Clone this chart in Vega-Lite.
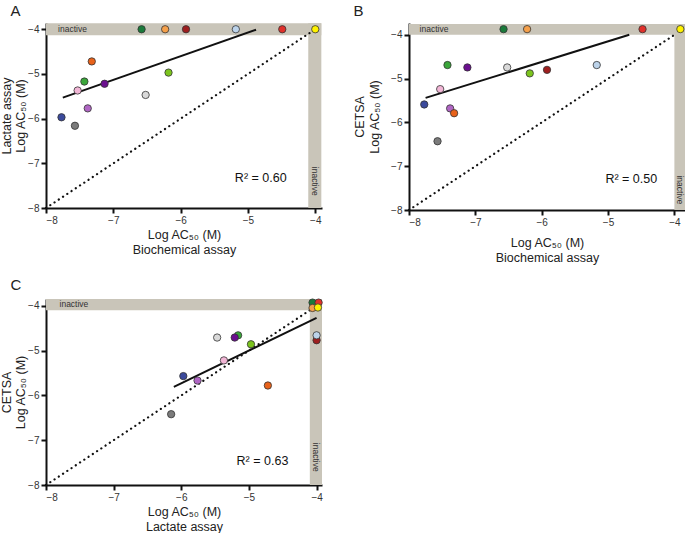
{
  "$schema": "https://vega.github.io/schema/vega-lite/v6.json",
  "padding": {"left": 0, "top": 4, "right": 0, "bottom": 0},
  "background": "white",
  "config": {
    "view": {"stroke": null},
    "font": "Liberation Sans",
    "axis": {"grid": false, "domainColor": "#111", "domainWidth": 2, "tickColor": "#111", "tickWidth": 2, "tickSize": 5, "labelFontSize": 10, "labelColor": "#333", "titleFontSize": 12.5, "titleFontWeight": "normal", "titleColor": "#222", "titleLineHeight": 15, "labelPadding": 2},
    "title": {"fontSize": 15, "fontWeight": "normal", "anchor": "start", "frame": "bounds", "color": "#222"}
  },
  "datasets": {
    "diag": [{"x": -8, "y": -8, "x2": -4, "y2": -4}],
    "pointsA": [
      {"id": 1, "x": -7.77, "y": -5.97}, {"id": 2, "x": -7.57, "y": -6.16}, {"id": 3, "x": -7.53, "y": -5.37},
      {"id": 4, "x": -7.38, "y": -5.77}, {"id": 5, "x": -7.32, "y": -4.72}, {"id": 6, "x": -7.43, "y": -5.17},
      {"id": 7, "x": -7.13, "y": -5.22}, {"id": 8, "x": -6.52, "y": -5.47}, {"id": 9, "x": -6.18, "y": -4.97},
      {"id": 10, "x": -6.58, "y": -4.0}, {"id": 11, "x": -6.23, "y": -4.0}, {"id": 12, "x": -5.92, "y": -4.0},
      {"id": 13, "x": -5.18, "y": -4.0}, {"id": 14, "x": -4.49, "y": -4.0}, {"id": 15, "x": -4.0, "y": -4.0}
    ],
    "pointsB": [
      {"id": 1, "x": -7.77, "y": -5.59}, {"id": 2, "x": -7.57, "y": -6.43}, {"id": 3, "x": -7.53, "y": -5.24},
      {"id": 4, "x": -7.38, "y": -5.68}, {"id": 5, "x": -7.32, "y": -5.79}, {"id": 6, "x": -7.42, "y": -4.69},
      {"id": 7, "x": -7.12, "y": -4.745}, {"id": 8, "x": -6.52, "y": -4.745}, {"id": 9, "x": -6.18, "y": -4.88},
      {"id": 10, "x": -6.575, "y": -3.87}, {"id": 11, "x": -6.22, "y": -3.87}, {"id": 12, "x": -5.92, "y": -4.8},
      {"id": 13, "x": -5.17, "y": -4.69}, {"id": 14, "x": -4.48, "y": -3.87}, {"id": 15, "x": -3.91, "y": -3.87}
    ],
    "pointsC": [
      {"id": 1, "x": -5.97, "y": -5.57}, {"id": 2, "x": -6.15, "y": -6.42}, {"id": 3, "x": -5.37, "y": -5.22},
      {"id": 4, "x": -5.76, "y": -5.67}, {"id": 5, "x": -4.72, "y": -5.78}, {"id": 6, "x": -5.16, "y": -4.66},
      {"id": 7, "x": -5.21, "y": -4.71}, {"id": 8, "x": -5.47, "y": -4.71}, {"id": 9, "x": -4.97, "y": -4.86},
      {"id": 10, "x": -4.06, "y": -3.93}, {"id": 11, "x": -4.06, "y": -4.05}, {"id": 12, "x": -4.0, "y": -4.77},
      {"id": 13, "x": -4.0, "y": -4.66}, {"id": 14, "x": -3.97, "y": -3.93}, {"id": 15, "x": -3.98, "y": -4.04}
    ],
    "bandsA": [{"x": -8, "x2": -3.91, "y": -4.134, "y2": -3.866}, {"x": -4.104, "x2": -3.91, "y": -8, "y2": -3.866}],
    "bandsB": [{"x": -8, "x2": -3.84, "y": -4.0, "y2": -3.75}, {"x": -4.0, "x2": -3.84, "y": -8, "y2": -3.75}],
    "bandsC": [{"x": -8, "x2": -3.92, "y": -4.1, "y2": -3.85}, {"x": -4.1, "x2": -3.92, "y": -8, "y2": -3.85}],
    "fitA": [{"x": -7.75, "y": -5.53, "x2": -4.88, "y2": -4.01}],
    "fitB": [{"x": -7.75, "y": -5.44, "x2": -4.68, "y2": -4.0}],
    "fitC": [{"x": -6.11, "y": -5.81, "x2": -4.0, "y2": -4.27}],
    "labelsA": [{"pos": "top", "label": "inactive", "x": -7.82, "y": -4.0}, {"pos": "right", "label": "inactive", "x": -4.0, "y": -7.4}, {"pos": "r2", "label": "R² = 0.60", "x": -4.81, "y": -7.33}],
    "labelsB": [{"pos": "top", "label": "inactive", "x": -7.84, "y": -3.87}, {"pos": "right", "label": "inactive", "x": -3.92, "y": -7.54}, {"pos": "r2", "label": "R² = 0.50", "x": -4.65, "y": -7.29}],
    "labelsC": [{"pos": "top", "label": "inactive", "x": -7.8, "y": -3.97}, {"pos": "right", "label": "inactive", "x": -4.01, "y": -7.38}, {"pos": "r2", "label": "R² = 0.63", "x": -4.8, "y": -7.47}]
  },
  "vconcat": [
    {
      "hconcat": [
        {
          "title": {"text": "A", "dx": 10, "offset": 4},
          "width": 276, "height": 185,
          "encoding": {
            "x": {"field": "x", "type": "quantitative", "scale": {"domain": [-8, -3.9], "nice": false, "zero": false}, "axis": {"values": [-8, -7, -6, -5, -4], "title": ["Log AC₅₀ (M)", "Biochemical assay"], "titlePadding": 3}},
            "y": {"field": "y", "type": "quantitative", "scale": {"domain": [-8, -3.86], "nice": false, "zero": false}, "axis": {"values": [-8, -7, -6, -5, -4], "title": ["Lactate assay", "Log AC₅₀ (M)"], "titlePadding": 0, "titleLineHeight": 14}}
          },
          "layer": [
            {"data": {"name": "bandsA"}, "mark": {"type": "rect", "color": "#c9c5b9"}, "encoding": {"x2": {"field": "x2"}, "y2": {"field": "y2"}}},
            {"data": {"name": "diag"}, "mark": {"type": "rule", "color": "#111", "strokeWidth": 2.2, "strokeDash": [0.1, 5], "strokeCap": "round"}, "encoding": {"x2": {"field": "x2"}, "y2": {"field": "y2"}}},
            {"data": {"name": "fitA"}, "mark": {"type": "rule", "color": "#111", "strokeWidth": 2}, "encoding": {"x2": {"field": "x2"}, "y2": {"field": "y2"}}},
            {"data": {"name": "pointsA"}, "mark": {"type": "circle", "size": 54, "opacity": 1, "stroke": "#333", "strokeWidth": 0.8}, "encoding": {"color": {"field": "id", "type": "nominal", "legend": null, "scale": {"domain": [1,2,3,4,5,6,7,8,9,10,11,12,13,14,15], "range": ["#3b4a9c", "#7b7b7b", "#f2b6d6", "#b066c4", "#e8621a", "#3aa63a", "#6b0f8f", "#d9d9d9", "#7cc41e", "#1b7a3a", "#f5a04a", "#9e1f1f", "#bcd3ea", "#e0302a", "#fff200"]}}}},
            {"data": {"name": "labelsA"}, "transform": [{"filter": "datum.pos == 'top'"}], "mark": {"type": "text", "align": "left", "baseline": "middle", "fontSize": 8.5, "color": "#333"}, "encoding": {"text": {"field": "label"}}},
            {"data": {"name": "labelsA"}, "transform": [{"filter": "datum.pos == 'right'"}], "mark": {"type": "text", "align": "center", "baseline": "middle", "angle": 90, "fontSize": 8.5, "color": "#333"}, "encoding": {"text": {"field": "label"}}},
            {"data": {"name": "labelsA"}, "transform": [{"filter": "datum.pos == 'r2'"}], "mark": {"type": "text", "align": "center", "baseline": "middle", "fontSize": 12.5, "color": "#111"}, "encoding": {"text": {"field": "label"}}}
          ]
        },
        {
          "title": {"text": "B", "dx": 0, "offset": 4},
          "width": 276, "height": 187,
          "encoding": {
            "x": {"field": "x", "type": "quantitative", "scale": {"domain": [-8, -3.84], "nice": false, "zero": false}, "axis": {"values": [-8, -7, -6, -5, -4], "title": ["Log AC₅₀ (M)", "Biochemical assay"], "titlePadding": 9}},
            "y": {"field": "y", "type": "quantitative", "scale": {"domain": [-8, -3.73], "nice": false, "zero": false}, "axis": {"values": [-8, -7, -6, -5, -4], "title": ["CETSA", "Log AC₅₀ (M)"], "titlePadding": 9}}
          },
          "layer": [
            {"data": {"name": "bandsB"}, "mark": {"type": "rect", "color": "#c9c5b9"}, "encoding": {"x2": {"field": "x2"}, "y2": {"field": "y2"}}},
            {"data": {"name": "diag"}, "mark": {"type": "rule", "color": "#111", "strokeWidth": 2.2, "strokeDash": [0.1, 5], "strokeCap": "round"}, "encoding": {"x2": {"field": "x2"}, "y2": {"field": "y2"}}},
            {"data": {"name": "fitB"}, "mark": {"type": "rule", "color": "#111", "strokeWidth": 2}, "encoding": {"x2": {"field": "x2"}, "y2": {"field": "y2"}}},
            {"data": {"name": "pointsB"}, "mark": {"type": "circle", "size": 54, "opacity": 1, "stroke": "#333", "strokeWidth": 0.8}, "encoding": {"color": {"field": "id", "type": "nominal", "legend": null, "scale": {"domain": [1,2,3,4,5,6,7,8,9,10,11,12,13,14,15], "range": ["#3b4a9c", "#7b7b7b", "#f2b6d6", "#b066c4", "#e8621a", "#3aa63a", "#6b0f8f", "#d9d9d9", "#7cc41e", "#1b7a3a", "#f5a04a", "#9e1f1f", "#bcd3ea", "#e0302a", "#fff200"]}}}},
            {"data": {"name": "labelsB"}, "transform": [{"filter": "datum.pos == 'top'"}], "mark": {"type": "text", "align": "left", "baseline": "middle", "fontSize": 8.5, "color": "#333"}, "encoding": {"text": {"field": "label"}}},
            {"data": {"name": "labelsB"}, "transform": [{"filter": "datum.pos == 'right'"}], "mark": {"type": "text", "align": "center", "baseline": "middle", "angle": 90, "fontSize": 8.5, "color": "#333"}, "encoding": {"text": {"field": "label"}}},
            {"data": {"name": "labelsB"}, "transform": [{"filter": "datum.pos == 'r2'"}], "mark": {"type": "text", "align": "center", "baseline": "middle", "fontSize": 12.5, "color": "#111"}, "encoding": {"text": {"field": "label"}}}
          ]
        }
      ],
      "spacing": 31
    },
    {
      "title": {"text": "C", "dx": 10, "offset": 4},
      "width": 276, "height": 186,
      "encoding": {
        "x": {"field": "x", "type": "quantitative", "scale": {"domain": [-8, -3.92], "nice": false, "zero": false}, "axis": {"values": [-8, -7, -6, -5, -4], "title": ["Log AC₅₀ (M)", "Lactate assay"], "titlePadding": 3}},
        "y": {"field": "y", "type": "quantitative", "scale": {"domain": [-8, -3.85], "nice": false, "zero": false}, "axis": {"values": [-8, -7, -6, -5, -4], "title": ["CETSA", "Log AC₅₀ (M)"], "titlePadding": 0, "titleLineHeight": 14}}
      },
      "layer": [
        {"data": {"name": "bandsC"}, "mark": {"type": "rect", "color": "#c9c5b9"}, "encoding": {"x2": {"field": "x2"}, "y2": {"field": "y2"}}},
        {"data": {"name": "diag"}, "mark": {"type": "rule", "color": "#111", "strokeWidth": 2.2, "strokeDash": [0.1, 5], "strokeCap": "round"}, "encoding": {"x2": {"field": "x2"}, "y2": {"field": "y2"}}},
        {"data": {"name": "fitC"}, "mark": {"type": "rule", "color": "#111", "strokeWidth": 2}, "encoding": {"x2": {"field": "x2"}, "y2": {"field": "y2"}}},
        {"data": {"name": "pointsC"}, "mark": {"type": "circle", "size": 54, "opacity": 1, "stroke": "#333", "strokeWidth": 0.8}, "encoding": {"color": {"field": "id", "type": "nominal", "legend": null, "scale": {"domain": [1,2,3,4,5,6,7,8,9,10,11,12,13,14,15], "range": ["#3b4a9c", "#7b7b7b", "#f2b6d6", "#b066c4", "#e8621a", "#3aa63a", "#6b0f8f", "#d9d9d9", "#7cc41e", "#1b7a3a", "#f5a04a", "#9e1f1f", "#bcd3ea", "#e0302a", "#fff200"]}}}},
        {"data": {"name": "labelsC"}, "transform": [{"filter": "datum.pos == 'top'"}], "mark": {"type": "text", "align": "left", "baseline": "middle", "fontSize": 8.5, "color": "#333"}, "encoding": {"text": {"field": "label"}}},
        {"data": {"name": "labelsC"}, "transform": [{"filter": "datum.pos == 'right'"}], "mark": {"type": "text", "align": "center", "baseline": "middle", "angle": 90, "fontSize": 8.5, "color": "#333"}, "encoding": {"text": {"field": "label"}}},
        {"data": {"name": "labelsC"}, "transform": [{"filter": "datum.pos == 'r2'"}], "mark": {"type": "text", "align": "center", "baseline": "middle", "fontSize": 12.5, "color": "#111"}, "encoding": {"text": {"field": "label"}}}
      ]
    }
  ],
  "spacing": 14
}
